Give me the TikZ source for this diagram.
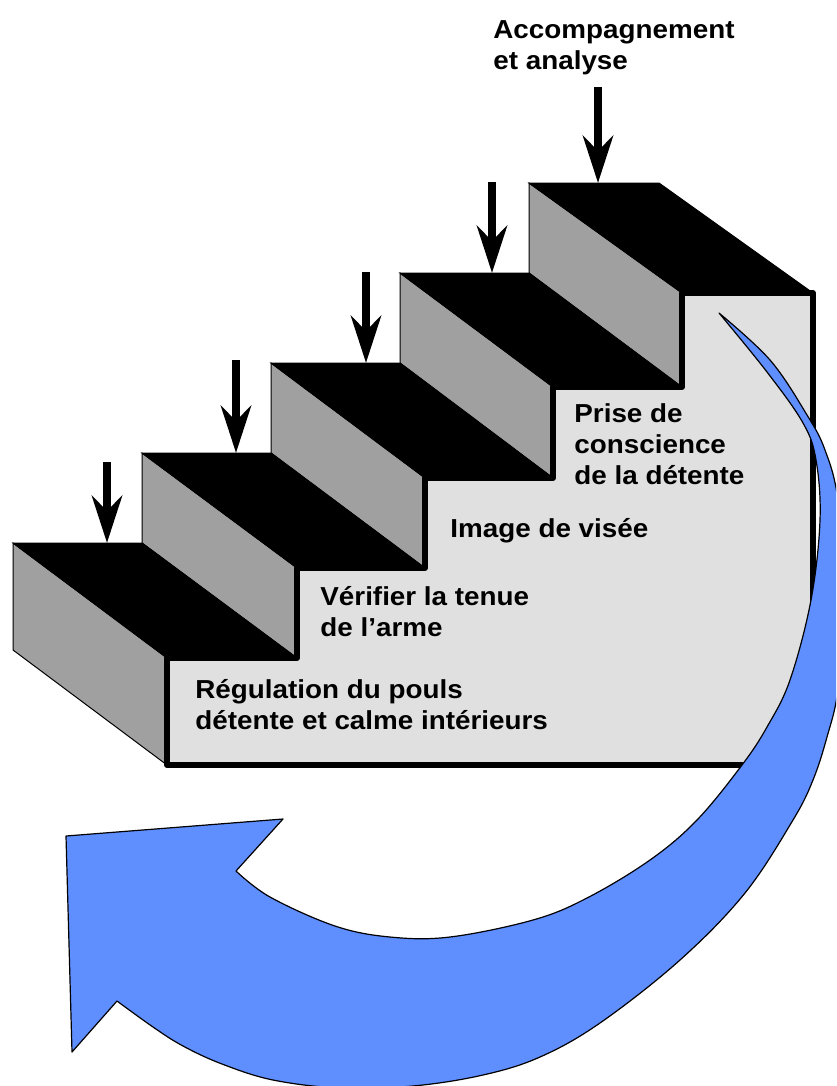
\documentclass[tikz,border=0pt]{standalone}
\usepackage{fontspec}
\setmainfont[FakeStretch=1.07]{Liberation Sans}
\usetikzlibrary{arrows.meta}

\definecolor{risergray}{RGB}{160,160,160}
\definecolor{sidegray}{RGB}{224,224,224}
\definecolor{cycleblue}{RGB}{95,142,255}

\tikzset{
  tread/.style={fill=black, draw=black, line width=0.5pt},
  riser/.style={fill=risergray, draw=black, line width=0.5pt},
  profile/.style={fill=sidegray, draw=black, line width=3pt, line join=round},
  downarrow/.style={line width=4pt, -{Stealth[length=23.5pt, width=15pt, inset=7.5pt]}},
  steptext/.style={font=\fontsize{13}{15.5}\selectfont\bfseries, align=left, anchor=base west, inner sep=0pt},
  cyclearrow/.style={fill=cycleblue, draw=black, line width=0.6pt, line join=round}
}

\begin{document}
\begin{tikzpicture}[x=0.5pt, y=-0.5pt]
\clip (0,0) rectangle (836,1086);

% risers
\draw[riser] (13,543) -- (167,658) -- (167,765) -- (13,650) -- cycle;
\draw[riser] (142,453) -- (297,568) -- (297,658) -- (142,543) -- cycle;
\draw[riser] (271,363) -- (425,478) -- (425,568) -- (271,453) -- cycle;
\draw[riser] (400,273) -- (553,387) -- (553,478) -- (400,363) -- cycle;
\draw[riser] (529,183) -- (682,293) -- (682,387) -- (529,273) -- cycle;

% treads
\draw[tread] (13,543) -- (142,543) -- (297,658) -- (167,658) -- cycle;
\draw[tread] (142,453) -- (271,453) -- (425,568) -- (297,568) -- cycle;
\draw[tread] (271,363) -- (400,363) -- (553,478) -- (425,478) -- cycle;
\draw[tread] (400,273) -- (529,273) -- (682,387) -- (553,387) -- cycle;
\draw[tread] (529,183) -- (659,183) -- (813,293) -- (682,293) -- cycle;

% side face
\draw[profile] (167,765) -- (167,658) -- (297,658) -- (297,568) -- (425,568) -- (425,478)
  -- (553,478) -- (553,387) -- (682,387) -- (682,293) -- (813,293) -- (813,765) -- cycle;

\coordinate (a1) at (107,462); \coordinate (s1) at (107,543);
\coordinate (a2) at (236,360); \coordinate (s2) at (236,453);
\coordinate (a3) at (366,272); \coordinate (s3) at (366,363);
\coordinate (a4) at (492,182); \coordinate (s4) at (492,273);
\coordinate (a5) at (598,87);  \coordinate (s5) at (598,183);
\draw[downarrow] (a1) -- (s1);
\draw[downarrow] (a2) -- (s2);
\draw[downarrow] (a3) -- (s3);
\draw[downarrow] (a4) -- (s4);
\draw[downarrow] (a5) -- (s5);

% base = last line
\node[steptext] (acc) at (493,70) {Accompagnement\\et analyse};
\node[steptext] (prise) at (574,484) {Prise de\\conscience\\de la détente};
\node[steptext] (visee) at (450,537) {Image de visée};
\node[steptext] (tenue) at (320,636) {Vérifier la tenue\\de l’arme};
\node[steptext] (pouls) at (195,729) {Régulation du pouls\\détente et calme intérieurs};

% return arrow
\draw[cyclearrow] plot[smooth, tension=0.6] coordinates {(719,313) (770,360) (807,415) (825,450)
    (838,500) (846,600) (838,690) (827,737) (813,780) (793,820) (745,893) (680,960) (600,1023)
    (540,1057) (483,1075) (413,1086) (340,1088) (273,1080) (222,1064) (183,1046) (153,1027) (117,1001)}
  -- (72,1052) -- (66,836) -- (283,819) -- (236,871)
  -- plot[smooth, tension=0.6] coordinates {(236,871) (270,897) (335,926) (390,937) (450,937)
    (533,920) (587,898) (650,860) (697,820) (742,765) (767,727) (790,680) (811,600) (820,520)
    (816,460) (803,423) (767,372) (719,313)} -- cycle;
\end{tikzpicture}
\end{document}
